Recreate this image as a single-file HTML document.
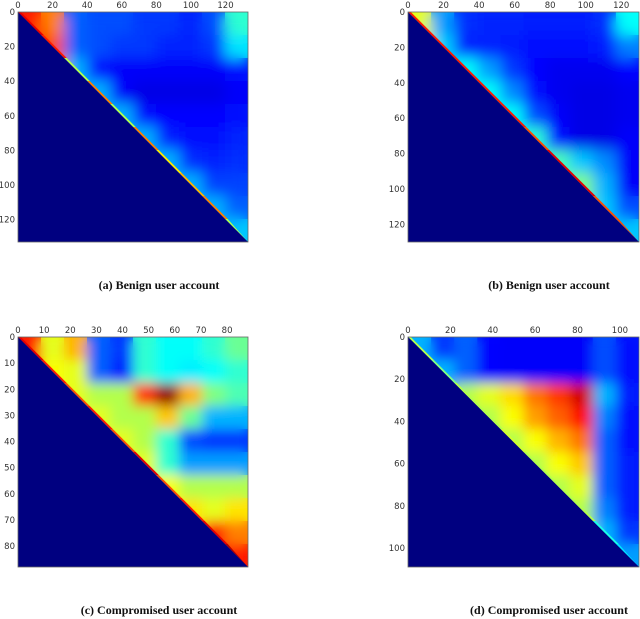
<!DOCTYPE html>
<html><head><meta charset="utf-8"><style>
body{margin:0;background:#fff;width:640px;height:619px;overflow:hidden}
svg{display:block}
.tk{font:8.5px "DejaVu Sans","Liberation Sans",sans-serif;fill:#333}
.cap{font:bold 12px "Liberation Serif",serif;fill:#111}
</style></head><body>
<svg id="fig" width="640" height="619" xmlns="http://www.w3.org/2000/svg"></svg>
<script>
// ---- data (coarse 10x10 bins, upper triangle; jet colormap value 0..1) ----
const aN = 133;
const aTicks = [0,20,40,60,80,100,120];
const aGrid = [
 [0.85,0.75,0.22,0.2,0.2,0.18,0.18,0.16,0.2,0.42],
 [null,0.8,0.22,0.2,0.18,0.18,0.16,0.16,0.18,0.35],
 [null,null,0.3,0.14,0.12,0.12,0.12,0.12,0.12,0.14],
 [null,null,null,0.3,0.12,0.1,0.1,0.1,0.1,0.12],
 [null,null,null,null,0.3,0.14,0.13,0.13,0.13,0.14],
 [null,null,null,null,null,0.3,0.16,0.14,0.14,0.16],
 [null,null,null,null,null,null,0.3,0.17,0.16,0.17],
 [null,null,null,null,null,null,null,0.3,0.19,0.19],
 [null,null,null,null,null,null,null,null,0.3,0.22],
 [null,null,null,null,null,null,null,null,null,0.32]];
const aDiag = [0.9,0.85,0.55,0.75,0.55,0.75,0.65,0.7,0.75,0.55];

const bN = 130;
const bTicks = [0,20,40,60,80,100,120];
const bGrid = [
 [0.6,0.28,0.17,0.16,0.16,0.15,0.15,0.15,0.17,0.38],
 [null,0.33,0.16,0.16,0.15,0.14,0.14,0.14,0.15,0.25],
 [null,null,0.38,0.28,0.18,0.13,0.11,0.11,0.11,0.13],
 [null,null,null,0.38,0.26,0.14,0.11,0.1,0.1,0.11],
 [null,null,null,null,0.38,0.2,0.12,0.1,0.1,0.11],
 [null,null,null,null,null,0.42,0.14,0.1,0.1,0.12],
 [null,null,null,null,null,null,0.45,0.32,0.26,0.12],
 [null,null,null,null,null,null,null,0.5,0.3,0.12],
 [null,null,null,null,null,null,null,null,0.32,0.2],
 [null,null,null,null,null,null,null,null,null,0.32]];
const bDiag = [0.85,0.85,0.85,0.85,0.85,0.8,0.9,0.9,0.8,0.8];

const cN = 88;
const cTicks = [0,10,20,30,40,50,60,70,80];
const cGrid = [
 [0.85,0.6,0.7,0.22,0.18,0.42,0.38,0.38,0.42,0.48],
 [null,0.62,0.6,0.22,0.16,0.42,0.38,0.36,0.38,0.42],
 [null,null,0.6,0.55,0.55,0.82,0.98,0.7,0.5,0.45],
 [null,null,null,0.6,0.55,0.55,0.68,0.48,0.3,0.3],
 [null,null,null,null,0.6,0.55,0.42,0.2,0.18,0.18],
 [null,null,null,null,null,0.6,0.42,0.28,0.28,0.28],
 [null,null,null,null,null,null,0.62,0.55,0.55,0.55],
 [null,null,null,null,null,null,null,0.65,0.6,0.65],
 [null,null,null,null,null,null,null,null,0.85,0.75],
 [null,null,null,null,null,null,null,null,null,0.85]];
const cDiag = [0.9,0.85,0.8,0.85,0.8,0.9,0.8,0.85,0.9,0.95];

const dN = 109;
const dTicks = [0,20,40,60,80,100];
const dGrid = [
 [0.3,0.18,0.22,0.13,0.12,0.12,0.12,0.12,0.2,0.14],
 [null,0.3,0.22,0.13,0.12,0.12,0.12,0.12,0.2,0.14],
 [null,null,0.55,0.6,0.66,0.76,0.82,0.92,0.3,0.15],
 [null,null,null,0.55,0.62,0.72,0.78,0.86,0.25,0.14],
 [null,null,null,null,0.55,0.62,0.7,0.76,0.22,0.14],
 [null,null,null,null,null,0.55,0.62,0.68,0.22,0.15],
 [null,null,null,null,null,null,0.55,0.6,0.22,0.15],
 [null,null,null,null,null,null,null,0.55,0.25,0.15],
 [null,null,null,null,null,null,null,null,0.3,0.18],
 [null,null,null,null,null,null,null,null,null,0.28]];
const dDiag = [0.55,0.5,0.55,0.55,0.58,0.55,0.55,0.55,0.4,0.35];

const NS='http://www.w3.org/2000/svg';
const svg=document.getElementById('fig');
function jet(v){
  const c=x=>Math.max(0,Math.min(1,x));
  const r=c(1.5-Math.abs(4*v-3)), g=c(1.5-Math.abs(4*v-2)), b=c(1.5-Math.abs(4*v-1));
  return `rgb(${Math.round(r*255)},${Math.round(g*255)},${Math.round(b*255)})`;
}
function mk(tag,attrs,parent){const e=document.createElementNS(NS,tag);for(const k in attrs)e.setAttribute(k,attrs[k]);(parent||svg).appendChild(e);return e;}
const defs=mk('defs',{});

function panel(id,x0,y0,W,H,N,ticks,grid,diag,caption,capX,capY,blur){
  const g=mk('g',{});
  
  
  const f=mk('filter',{id:'bl'+id,x:'-10%',y:'-10%',width:'120%',height:'120%'},defs);
  mk('feGaussianBlur',{stdDeviation:blur,edgeMode:'duplicate'},f);
  const sx=v=>x0+v/N*W, sy=v=>y0+v/N*H;
  const G=grid.length, bs=N/G;
  mk('rect',{x:x0,y:y0,width:W,height:H,fill:jet(0)},g);
  const cp=mk('clipPath',{id:'cp'+id},defs);
  mk('polygon',{points:`${sx(0)},${sy(0)} ${sx(N)},${sy(0)} ${sx(N)},${sy(N)}`},cp);
  const cl=mk('g',{'clip-path':`url(#cp${id})`},g);
  const layers=[mk('g',{},cl),mk('g',{filter:`url(#bl${id})`},cl)];
  for(const L of layers){
    for(let i=0;i<G;i++)for(let j=0;j<G;j++){
      const val=(j<i)?grid[j][j]:grid[i][j];
      const r=mk('rect',{x:sx(j*bs),y:sy(i*bs),width:W/G+0.5,height:H/G+0.5,fill:jet(val)},L);
      
      
    }
  }
  const d=N*0.012;
  for(let k=0;k<diag.length;k++){
    const t1=k*N/diag.length,t2=(k+1)*N/diag.length;
    const p=mk('polygon',{points:`${sx(t1)},${sy(t1)} ${sx(t2)},${sy(t2)} ${sx(Math.min(N,t2+d))},${sy(t2)} ${sx(Math.min(N,t1+d))},${sy(t1)}`,fill:jet(diag[k])},cl);
    
    
  }
  mk('polygon',{points:`${sx(0)},${sy(0)} ${sx(N)},${sy(N)} ${sx(0)},${sy(N)}`,fill:jet(0)},g);
  mk('rect',{x:x0,y:y0,width:W,height:H,fill:'none',stroke:'#666','stroke-width':0.8},g);
  for(const t of ticks){
    const tx=mk('text',{x:sx(t),y:y0-4,'text-anchor':'middle',class:'tk'},g);tx.textContent=t;
    
    
    const ty=mk('text',{x:x0-3,y:sy(t)+3,'text-anchor':'end',class:'tk'},g);ty.textContent=t;
    
    
  }
  const c=mk('text',{x:capX,y:capY,'text-anchor':'middle',class:'cap'},g);c.textContent=caption;
  
  
}
panel('a',18,12,230,230,aN,aTicks,aGrid,aDiag,'(a) Benign user account',159,289,7);
panel('b',408,12,231,230,bN,bTicks,bGrid,bDiag,'(b) Benign user account',549,289,7);
panel('c',18,337,230,230,cN,cTicks,cGrid,cDiag,'(c) Compromised user account',159,614,6);
panel('d',408,337,231,230,dN,dTicks,dGrid,dDiag,'(d) Compromised user account',549,614,6);
</script>
</body></html>
